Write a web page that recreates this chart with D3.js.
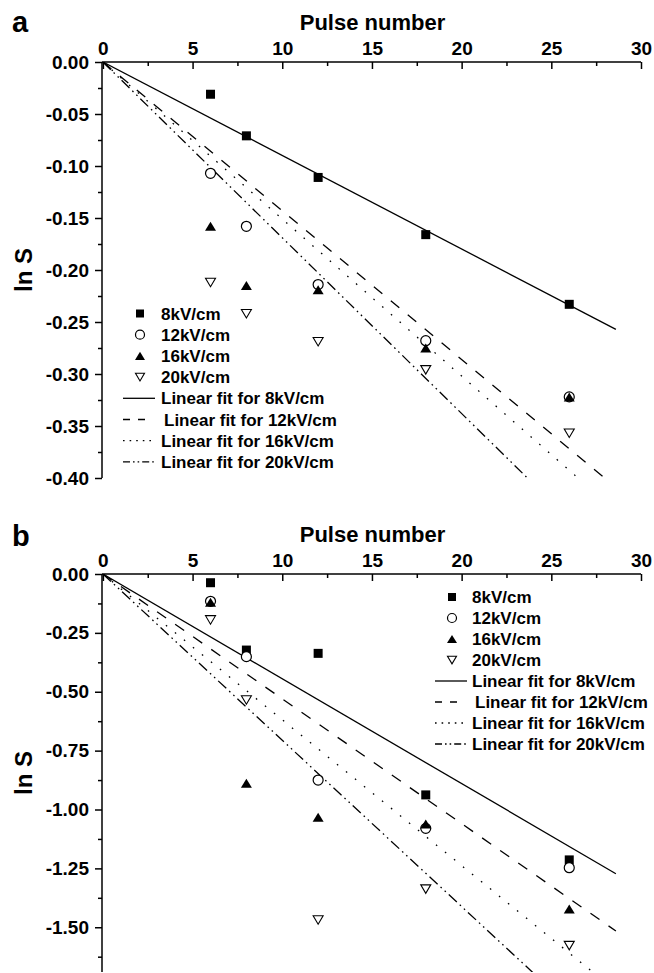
<!DOCTYPE html>
<html>
<head>
<meta charset="utf-8">
<script src="https://cdn.jsdelivr.net/npm/d3@7"></script>
<style>
    body { margin: 0; background: #fff; }
    svg { display: block; }
</style>
</head>
<body>
<div id="chart"></div>
<script>
// pulse numbers on the x axis
const pulses = [6, 8, 12, 18, 26];
const fieldLabels = ["8kV/cm", "12kV/cm", "16kV/cm", "20kV/cm"];
const fitLabels = ["Linear fit for 8kV/cm", "Linear fit for 12kV/cm",
                   "Linear fit for 16kV/cm", "Linear fit for 20kV/cm"];

// panel a: ln S values
const a8kV  = [-0.031, -0.071, -0.111, -0.166, -0.233];
const a12kV = [-0.107, -0.158, -0.214, -0.268, -0.322];
const a16kV = [-0.158, -0.215, -0.219, -0.275, -0.322];
const a20kV = [-0.212, -0.242, -0.269, -0.296, -0.357];
// slopes of the linear fits (through the origin)
const aSlopes = [-0.00899, -0.0143, -0.0151, -0.0169];
const aTicks = [0, -0.05, -0.10, -0.15, -0.20, -0.25, -0.30, -0.35, -0.40];

// panel b: ln S values
const b8kV  = [-0.037, -0.323, -0.337, -0.938, -1.214];
const b12kV = [-0.116, -0.351, -0.875, -1.080, -1.247];
const b16kV = [-0.120, -0.889, -1.033, -1.062, -1.423];
const b20kV = [-0.195, -0.535, -1.469, -1.338, -1.578];
const bSlopes = [-0.0445, -0.0530, -0.0619, -0.0706];
const bTicks = [0, -0.25, -0.50, -0.75, -1.00, -1.25, -1.50];

const xTicks = [0, 5, 10, 15, 20, 25, 30];
const fitEnd = 28.6;

const W = 654, H = 973;
const FONT = "'Liberation Sans', Arial, Helvetica, sans-serif";

const svg = d3.select("#chart").append("svg")
    .attr("width", W)
    .attr("height", H)
    .style("font-family", FONT);

// line styles for the four fits
const dashes = [null, "11,11", "1.6,10", "11,4,1.6,4,1.6,4"];
const legendDashes = [null, "7,8", "1.6,5", "7,3,1.6,3,1.6,3"];

function drawMarker(g, kind, x, y, s) {
    // s = marker size
    if (kind === 0) {
        g.append("rect")
            .attr("x", x - s / 2).attr("y", y - s / 2)
            .attr("width", s).attr("height", s)
            .attr("fill", "#000");
    } else if (kind === 1) {
        g.append("circle")
            .attr("cx", x).attr("cy", y).attr("r", s / 2)
            .attr("fill", "#fff").attr("stroke", "#000").attr("stroke-width", 1.2);
    } else if (kind === 2) {
        const h = s * 0.9;
        g.append("path")
            .attr("d", `M${x},${y - h / 2}L${x + s / 2 + 0.5},${y + h / 2}L${x - s / 2 - 0.5},${y + h / 2}Z`)
            .attr("fill", "#000");
    } else {
        const h = s * 0.85;
        g.append("path")
            .attr("d", `M${x - s / 2},${y - h / 2}L${x + s / 2},${y - h / 2}L${x},${y + h / 2}Z`)
            .attr("fill", "#fff").attr("stroke", "#000").attr("stroke-width", 1.1);
    }
}

function drawPanel(params) {
    const left = 102, right = 641;
    const x = d3.scaleLinear().domain([-0.05, 30]).range([left, right]);
    const y = d3.scaleLinear().domain([0, params.yMin]).range([params.top, params.bottom]);

    const g = svg.append("g");

    // clip for the fit lines
    const clipId = "clip-" + params.name;
    svg.append("clipPath").attr("id", clipId)
        .append("rect")
        .attr("x", left).attr("y", params.top)
        .attr("width", right - left).attr("height", params.bottom - params.top);

    // fit lines
    const line = d3.line().x(d => x(d[0])).y(d => y(d[1]));
    params.slopes.forEach(function (k, i) {
        g.append("path")
            .datum([[0, 0], [fitEnd, k * fitEnd]])
            .attr("d", line)
            .attr("clip-path", `url(#${clipId})`)
            .attr("fill", "none")
            .attr("stroke", "#000")
            .attr("stroke-width", 1.3)
            .attr("stroke-dasharray", dashes[i]);
    });

    // data points
    params.series.forEach(function (vals, i) {
        vals.forEach(function (v, j) {
            drawMarker(g, i, x(pulses[j]), y(v), i === 0 ? 9 : 10);
        });
    });

    // x axis at top, ticks pointing into the plot
    const xMinor = d3.range(2.5, 30, 5);
    g.append("g")
        .attr("transform", `translate(0,${params.top})`)
        .call(d3.axisTop(x).tickValues(xMinor).tickSizeInner(-4).tickSizeOuter(0).tickFormat(""))
        .call(s => s.select(".domain").remove())
        .call(s => s.selectAll("line").attr("stroke-width", 1.5));
    g.append("g")
        .attr("transform", `translate(0,${params.top})`)
        .call(d3.axisTop(x).tickValues(xTicks).tickSizeInner(-7).tickSizeOuter(0).tickPadding(7))
        .call(s => s.select(".domain").attr("stroke-width", 1.5).attr("d", `M${left},0H${right}`))
        .call(s => s.selectAll("line").attr("stroke-width", 1.5))
        .call(s => s.selectAll("text")
            .attr("font-size", 19).attr("font-weight", "bold")
            .attr("font-family", FONT).attr("fill", "#000"));

    // y axis
    const step = params.ticks[0] - params.ticks[1];
    const yMinor = d3.range(params.ticks.length).map(i => -(i + 0.5) * step)
        .filter(v => v >= params.yMin);
    g.append("g")
        .attr("transform", `translate(${left},0)`)
        .call(d3.axisLeft(y).tickValues(yMinor).tickSizeInner(4).tickSizeOuter(0).tickFormat(""))
        .call(s => s.select(".domain").remove())
        .call(s => s.selectAll("line").attr("stroke-width", 1.5));
    g.append("g")
        .attr("transform", `translate(${left},0)`)
        .call(d3.axisLeft(y).tickValues(params.ticks).tickSizeInner(7).tickSizeOuter(0).tickPadding(6)
            .tickFormat(d => d.toFixed(2)))
        .call(s => s.select(".domain").attr("stroke-width", 1.5)
            .attr("d", `M0,${params.top}V${params.bottom}`))
        .call(s => s.selectAll("line").attr("stroke-width", 1.5))
        .call(s => s.selectAll("text")
            .attr("font-size", 19).attr("font-weight", "bold")
            .attr("font-family", FONT).attr("fill", "#000"));

    // axis titles
    g.append("text")
        .attr("x", (left + right) / 2 + 1)
        .attr("y", params.top - 32)
        .attr("text-anchor", "middle")
        .attr("font-size", 22).attr("font-weight", "bold")
        .text("Pulse number");

    g.append("text")
        .attr("transform", `translate(32,${(params.top + params.bottom) / 2}) rotate(-90)`)
        .attr("text-anchor", "middle")
        .attr("font-size", 24).attr("font-weight", "bold")
        .text("ln S");

    // panel letter
    g.append("text")
        .attr("x", 12)
        .attr("y", params.top - params.letterOffset)
        .attr("font-size", 29).attr("font-weight", "bold")
        .text(params.name);

    // legend
    const lg = params.legend;
    const lgGroup = g.append("g").attr("font-size", 17).attr("font-weight", "bold");
    fieldLabels.forEach(function (lab, i) {
        const cy = lg.y + i * lg.dy;
        drawMarker(lgGroup, i, lg.mx, cy, i === 0 ? 8 : 9);
        lgGroup.append("text")
            .attr("x", lg.tx).attr("y", cy)
            .attr("dy", "0.36em")
            .text(lab);
    });
    fitLabels.forEach(function (lab, i) {
        const cy = lg.y + (i + 4) * lg.dy;
        lgGroup.append("line")
            .attr("x1", lg.lx1).attr("x2", i === 1 ? lg.lx1 + 23 : lg.lx2)
            .attr("y1", cy).attr("y2", cy)
            .attr("stroke", "#000").attr("stroke-width", 1.3)
            .attr("stroke-dasharray", legendDashes[i]);
        lgGroup.append("text")
            .attr("x", lg.tx + (i === 1 ? 3 : 0)).attr("y", cy)
            .attr("dy", "0.36em")
            .text(lab);
    });
}

drawPanel({
    name: "a",
    top: 62, bottom: 478, yMin: -0.40,
    ticks: aTicks,
    series: [a8kV, a12kV, a16kV, a20kV],
    slopes: aSlopes,
    letterOffset: 30,
    legend: {mx: 140, tx: 161, lx1: 123, lx2: 155, y: 313.5, dy: 21.2}
});

drawPanel({
    name: "b",
    top: 574, bottom: 972, yMin: -1.69,
    ticks: bTicks,
    series: [b8kV, b12kV, b16kV, b20kV],
    slopes: bSlopes,
    letterOffset: 28,
    legend: {mx: 452, tx: 472, lx1: 435, lx2: 467, y: 597, dy: 21}
});
</script>
</body>
</html>
